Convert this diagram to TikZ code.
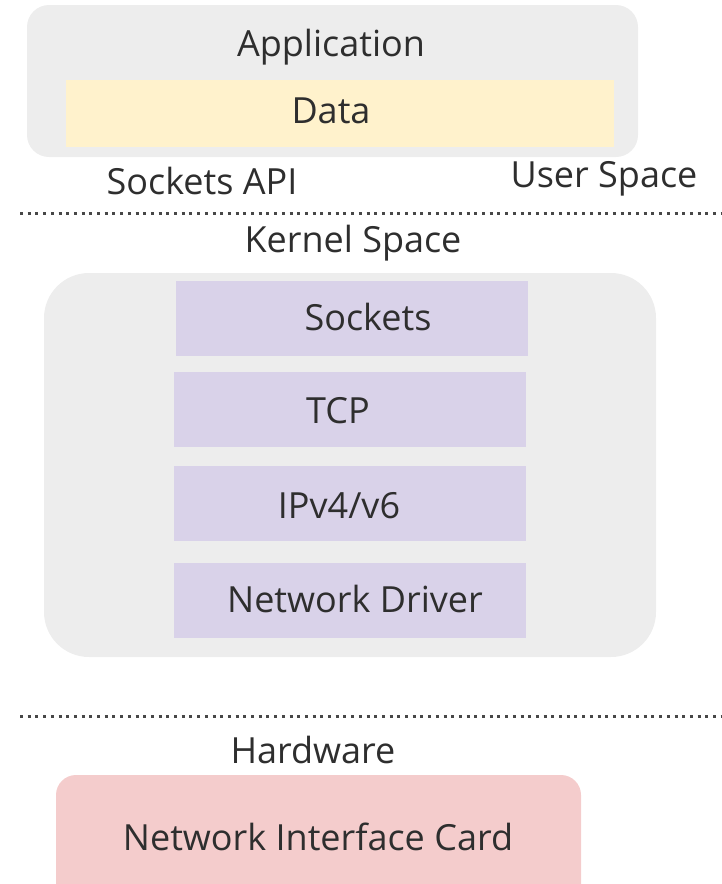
\documentclass[tikz,border=0pt]{standalone}
\usepackage{fontspec}
\setmainfont{Open Sans}
\begin{document}
\begin{tikzpicture}[x=1pt,y=-1pt,
  txt/.style={text=black!82, font=\fontsize{36}{42}\selectfont, inner sep=0pt, anchor=base},
  panel/.style={fill=black!7, draw=none},
  layer/.style={fill=lay, draw=none},
  divider/.style={draw=black!72, line width=3pt, dash pattern=on 3pt off 4.7pt}]
\definecolor{lay}{HTML}{D9D2E9}
\definecolor{datac}{HTML}{FFF2CC}
\definecolor{nicc}{HTML}{F4CCCC}
\useasboundingbox (0,0) rectangle (722,884);

% user space
\path[panel, rounded corners=22pt] (27,5) rectangle (638,157);
\node[txt] (app) at (331,56) {Application};
\path[fill=datac] (66,80) rectangle (614,147);
\node[txt] (data) at (331,123) {Data};
\node[txt] (api) at (202,194) {Sockets API};
\node[txt] (us) at (604,187) {User Space};

\coordinate (d1a) at (20,213);
\coordinate (d1b) at (722,213);
\path[divider] (d1a) -- (d1b);
\node[txt] (ks) at (353,252) {Kernel Space};

% kernel stack
\path[panel, rounded corners=45pt] (44,273) rectangle (656,657);
\path[layer] (176,281) rectangle (528,356);
\node[txt] (sock) at (368,330) {Sockets};
\path[layer] (174,372) rectangle (526,447);
\node[txt] (tcp) at (338,423) {TCP};
\path[layer] (174,466) rectangle (526,541);
\node[txt] (ip) at (339,518) {IPv4/v6};
\path[layer] (174,563) rectangle (526,638);
\node[txt] (drv) at (355,612) {Network Driver};

\coordinate (d2a) at (20,716);
\coordinate (d2b) at (722,716);
\path[divider] (d2a) -- (d2b);
\node[txt] (hw) at (313,763) {Hardware};

% hardware
\path[fill=nicc, rounded corners=20pt] (56,775) rectangle (581,905);
\node[txt] (nic) at (318,850) {Network Interface Card};
\end{tikzpicture}
\end{document}
